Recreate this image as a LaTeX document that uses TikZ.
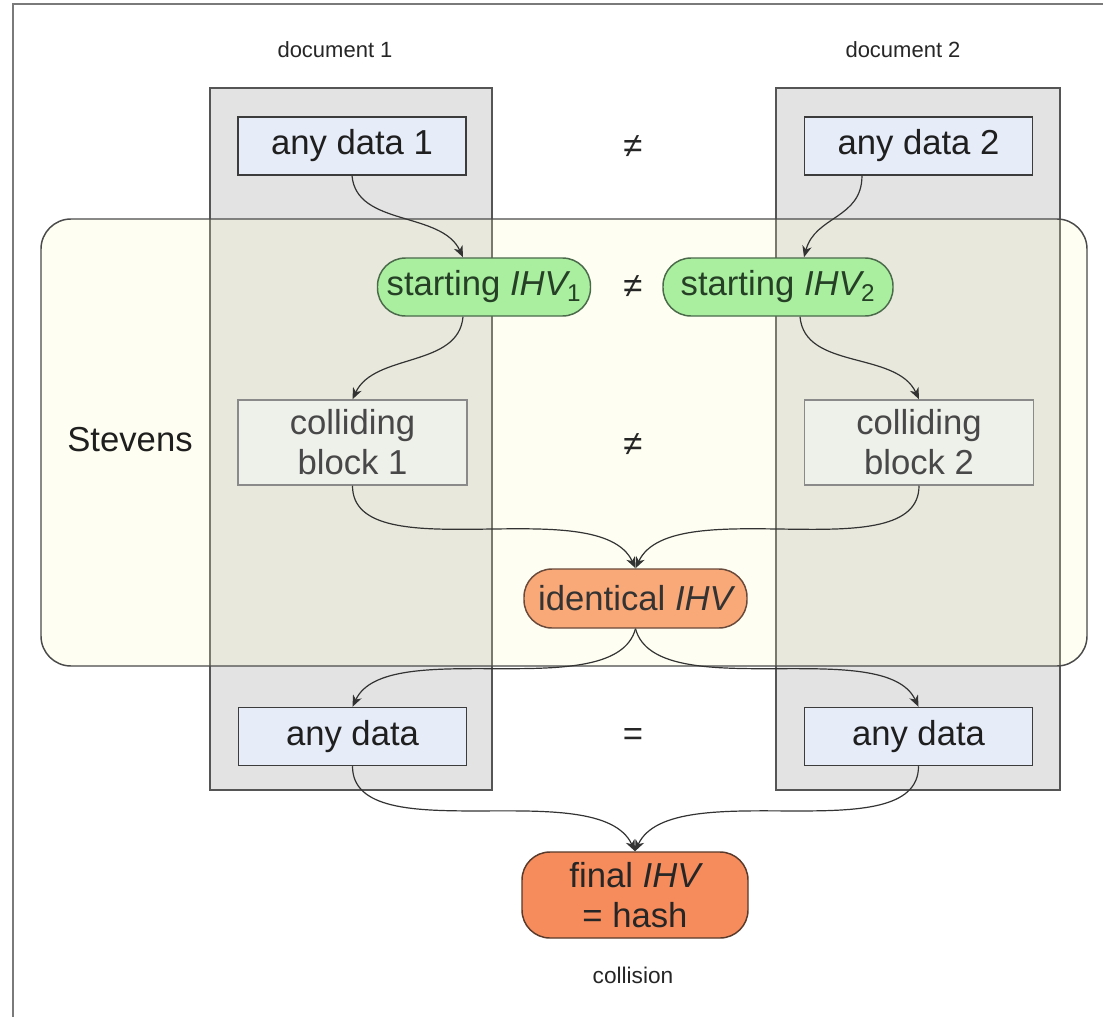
\documentclass[tikz,border=0pt]{standalone}
\usepackage{fontspec}
\setmainfont{Liberation Sans}
\usetikzlibrary{arrows.meta,calc}

\definecolor{framecol}{HTML}{7A7A7A}
\definecolor{colfill}{HTML}{E3E3E3}
\definecolor{colline}{HTML}{555555}
\definecolor{stevfill}{HTML}{FBFBC8}
\definecolor{stevline}{HTML}{4A4A4A}
\definecolor{datafill}{HTML}{E6ECF8}
\definecolor{dataline}{HTML}{3C3C3C}
\definecolor{greenfill}{HTML}{AAEEA0}
\definecolor{greenline}{HTML}{4A6A4A}
\definecolor{greentext}{HTML}{264026}
\definecolor{blockfill}{HTML}{EEF0EA}
\definecolor{blockline}{HTML}{8A8A8A}
\definecolor{blocktext}{HTML}{484848}
\definecolor{idfill}{HTML}{F9A877}
\definecolor{idline}{HTML}{6A4A3A}
\definecolor{finfill}{HTML}{F68C5C}
\definecolor{finline}{HTML}{5A3A2A}
\definecolor{arrowcol}{HTML}{333333}

\tikzset{
  big/.style={font=\fontsize{26}{30}\selectfont, inner sep=0pt, align=center, line width=1.1pt},
  small/.style={font=\fontsize{16.5}{20}\selectfont, text=black!85, inner sep=0pt},
  sym/.style={font=\fontsize{26}{30}\selectfont, text=black!85, inner sep=0pt},
  databox/.style={big, draw=dataline, fill=datafill, text=black!88,
    minimum width=171pt, minimum height=43.5pt},
  greenpill/.style={big, draw=greenline, fill=greenfill, text=greentext,
    rounded corners=21pt, minimum height=43.5pt},
  blockbox/.style={big, draw=blockline, fill=blockfill, text=blocktext,
    minimum width=171.75pt, minimum height=63.75pt},
  idpill/.style={big, draw=idline, fill=idfill, text=black!80,
    rounded corners=21pt, minimum width=167.25pt, minimum height=44.25pt},
  finbox/.style={big, draw=finline, fill=finfill, text=black!85,
    rounded corners=21pt, minimum width=169.5pt, minimum height=64.5pt},
  column/.style={draw=colline, fill=colfill, line width=1.1pt},
  stevregion/.style={draw=stevline, line width=1.1pt, fill=stevfill,
    fill opacity=0.22, rounded corners=22.5pt},
  flow/.style={draw=arrowcol, line width=0.9pt,
    -{Stealth[length=8.5pt,width=7pt,inset=2.5pt]}},
}

% italic IHV with a subscript set close to the V
\newcommand{\ihv}{{\itshape IHV}}
\newcommand{\ihvsub}[1]{{\itshape IHV}\kern-0.5pt\textsubscript{#1}}

\begin{document}
\begin{tikzpicture}[x=0.75pt,y=0.75pt]
  \useasboundingbox (0,0) rectangle (1103,-1017);
  \fill[white] (0,0) rectangle (1103,-1017);

  % window frame on the top and left edges
  \draw[framecol, line width=1.8pt] (13,-1017) -- (13,-4) -- (1103,-4);

  % the two document columns
  \draw[column] (210,-88) rectangle (492,-790);
  \draw[column] (776,-88) rectangle (1060,-790);

  % translucent region of the chosen-prefix attack
  \path[stevregion] (41,-219) rectangle (1087,-666);

  % labels
  \node[small] (doc1) at (335,-50) {document 1};
  \node[small] (doc2) at (903,-50) {document 2};
  \node[big, text=black!88] (stev) at (130,-440) {Stevens};
  \node[small, font=\fontsize{17}{20}\selectfont] (coll) at (633,-975) {collision};

  % boxes
  \node[databox] (d1) at (352,-146) {any data 1};
  \node[databox] (d2) at (918.5,-146) {any data 2};
  \node[sym] (ne1) at (633,-147) {≠};

  \node[greenpill, minimum width=159.75pt] (s1) at (484,-287) {starting \ihvsub{1}};
  \node[greenpill, minimum width=172.5pt] (s2) at (778,-287) {starting \ihvsub{2}};
  \node[sym] (ne2) at (633,-287) {≠};

  \node[blockbox] (c1) at (352.5,-442.5) {colliding\\block 1};
  \node[blockbox] (c2) at (919,-442.5) {colliding\\block 2};
  \node[sym] (ne3) at (633,-445) {≠};

  \node[idpill] (id) at (635.5,-598.5) {identical \ihv};

  \node[databox] (a1) at (352.5,-736.5) {any data};
  \node[databox] (a2) at (918.5,-736.5) {any data};
  \node[sym] (eq) at (633,-737) {=};

  \node[finbox] (fin) at (635,-895) {final \ihv\\= hash};

  % connectors
  \draw[flow] (d1.south) to[out=-85,in=115,looseness=0.95] ([xshift=-15.75pt]s1.north);
  \draw[flow] ([xshift=-42.4pt]d2.south) to[out=-90,in=75,looseness=1.1] ([xshift=19.5pt]s2.north);
  \draw[flow] ([xshift=-15.75pt]s1.south) to[out=-95,in=65,looseness=0.95] (c1.north);
  \draw[flow] ([xshift=16.5pt]s2.south) to[out=-85,in=115,looseness=0.95] (c2.north);
  \draw[flow] (c1.south) to[out=-90,in=115,looseness=0.75] (id.north);
  \draw[flow] (c2.south) to[out=-90,in=65,looseness=0.75] (id.north);
  \draw[flow] (id.south) to[out=-105,in=65,looseness=0.7] (a1.north);
  \draw[flow] (id.south) to[out=-75,in=115,looseness=0.7] (a2.north);
  \draw[flow] (a1.south) to[out=-90,in=115,looseness=0.75] (fin.north);
  \draw[flow] (a2.south) to[out=-90,in=65,looseness=0.75] (fin.north);
\end{tikzpicture}
\end{document}
